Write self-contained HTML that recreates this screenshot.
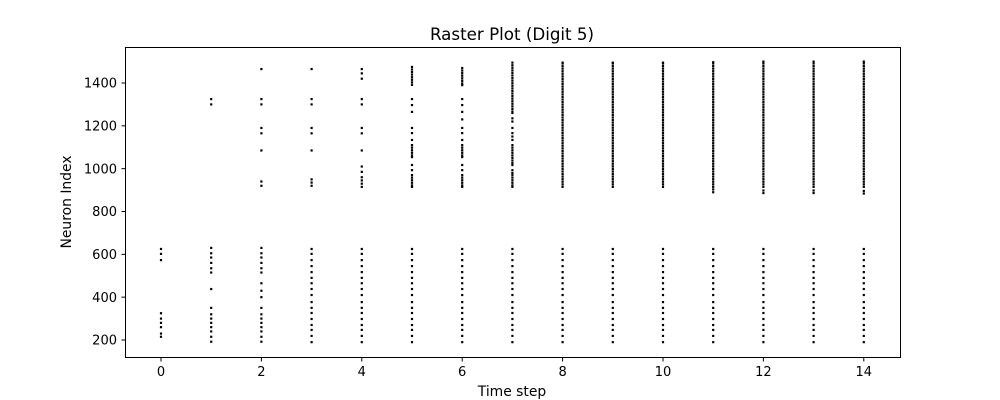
<!DOCTYPE html>
<html><head><meta charset="utf-8"><style>
html,body{margin:0;padding:0;background:#fff;}
svg{display:block;font-family:"DejaVu Sans","Liberation Sans",sans-serif;}
</style></head><body>
<svg id="chart" width="1000" height="400" xmlns="http://www.w3.org/2000/svg">
<rect width="1000" height="400" fill="#fff"/>
<text x="512" y="40" text-anchor="middle" font-size="16.7">Raster Plot (Digit 5)</text>
<text x="512" y="396" text-anchor="middle" font-size="13.9">Time step</text>
<text transform="translate(71,202) rotate(-90)" text-anchor="middle" font-size="13.9">Neuron Index</text>
<g id="marks"></g>
<g id="axes"></g>
<rect x="125.5" y="47.5" width="775" height="310" fill="none" stroke="#000" stroke-width="1"/>
</svg>
<script>
const xTicks = [0,2,4,6,8,10,12,14];
const yTicks = [200,400,600,800,1000,1200,1400];
const lowFull = [625,602,573,545,517,490,465,438,410,377,350,326,298,270,247,219,190];
const upperDense = [915,927,939,951,963,975,987,999,1011,1023,1035,1047,1059,1071,1083,1095,1107,1119,1131,1143,1155,1167,1179,1191,1203,1215,1227,1239,1251,1263,1275,1287,1299,1311,1323,1335,1347,1359,1371,1383,1395,1407,1419,1431,1443,1455,1467,1479,1491];
const spikesT0 = [625,602,573,325,300,280,260,230,215];
const spikesT1 = [1325,1300,630,605,585,560,535,515,438,350,320,300,280,260,240,215,192];
const spikesT2 = [1465,1325,1300,1190,1165,1085,940,920,630,605,585,560,535,515,465,430,400,350,320,300,280,260,240,215,192];
const spikesT3 = [1465,1325,1300,1190,1165,1085,950,935,920].concat(lowFull);
const spikesT4 = [1465,1445,1420,1325,1300,1190,1165,1085,1010,985,960,945,930,915].concat(lowFull);
const spikesT5 = [1475,1463,1451,1439,1427,1415,1403,1391,1325,1297,1265,1190,1166,1134,1110,1098,1086,1074,1062,1054,1017,993,970,958,946,934,922,915].concat(lowFull);
const spikesT6 = [1470,1458,1446,1434,1422,1410,1398,1390,1325,1297,1265,1230,1190,1166,1134,1110,1098,1086,1074,1062,1054,1017,993,970,958,946,934,922,915].concat(lowFull);
const spikesT7 = [1495,1483,1471,1459,1447,1435,1423,1411,1399,1387,1375,1363,1351,1339,1327,1315,1303,1291,1279,1267,1260,1235,1220,1190,1166,1150,1134,1110,1098,1086,1074,1062,1050,1038,1026,1017,993,980,970,958,946,934,922,915].concat(lowFull);
const spikesT8 = [1495].concat(upperDense, lowFull);
const spikesT9 = [1495].concat(upperDense, lowFull);
const spikesT10 = [1495].concat(upperDense, lowFull);
const spikesT11 = [890,903,1497].concat(upperDense, lowFull);
const spikesT12 = [886,898,1500].concat(upperDense, lowFull);
const spikesT13 = [886,898,1500].concat(upperDense, lowFull);
const spikesT14 = [884,896,1500].concat(upperDense, lowFull);
const timeSteps = [0,1,2,3,4,5,6,7,8,9,10,11,12,13,14];
const spikeLists = [spikesT0,spikesT1,spikesT2,spikesT3,spikesT4,spikesT5,spikesT6,spikesT7,spikesT8,spikesT9,spikesT10,spikesT11,spikesT12,spikesT13,spikesT14];

const NS='http://www.w3.org/2000/svg';
function xScale(t){return 161 + t*50.2;}
function yScale(v){return 340 - (v-200)*0.21417;}
const marks=document.getElementById('marks');
const axes=document.getElementById('axes');
timeSteps.forEach(function(t,i){
  spikeLists[i].forEach(function(v){
    const r=document.createElementNS(NS,'rect');
    r.setAttribute('x',(xScale(t)-1.1).toFixed(2));
    r.setAttribute('y',(yScale(v)-1.1).toFixed(2));
    r.setAttribute('width','2.2');
    r.setAttribute('height','2.2');
    r.setAttribute('fill','#000');
    
    
    marks.appendChild(r);
  });
});
xTicks.forEach(function(t){
  const x=xScale(t);
  const l=document.createElementNS(NS,'line');
  l.setAttribute('x1',x);l.setAttribute('x2',x);l.setAttribute('y1',358);l.setAttribute('y2',361.5);
  l.setAttribute('stroke','#000');
  
  
  axes.appendChild(l);
  const tx=document.createElementNS(NS,'text');
  tx.setAttribute('x',x);tx.setAttribute('y',376);tx.setAttribute('text-anchor','middle');tx.setAttribute('font-size','13');
  tx.textContent=t;
  
  
  axes.appendChild(tx);
});
yTicks.forEach(function(v){
  const y=yScale(v);
  const l=document.createElementNS(NS,'line');
  l.setAttribute('x1',121.5);l.setAttribute('x2',125);l.setAttribute('y1',y);l.setAttribute('y2',y);
  l.setAttribute('stroke','#000');
  
  
  axes.appendChild(l);
  const tx=document.createElementNS(NS,'text');
  tx.setAttribute('x',117);tx.setAttribute('y',y+4.7);tx.setAttribute('text-anchor','end');tx.setAttribute('font-size','13');
  tx.textContent=v;
  
  
  axes.appendChild(tx);
});
</script>
</body></html>
